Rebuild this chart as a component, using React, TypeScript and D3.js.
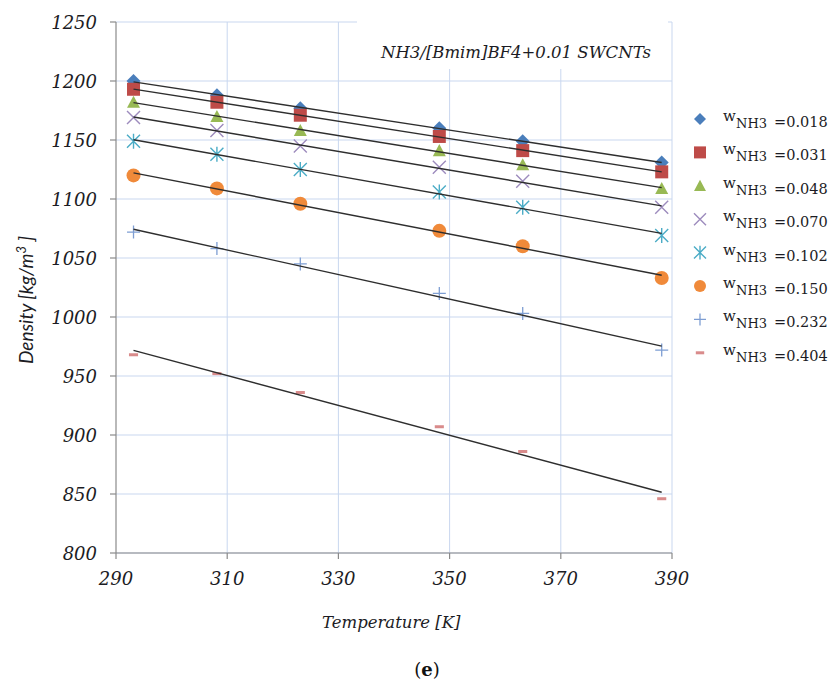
import React from "react";
import * as d3 from "d3";

// Measured temperatures (K)
const temperatures = [293.15, 308.15, 323.15, 348.15, 363.15, 388.15];

// Ammonia mass fractions, one series each
const fractions = ["0.018", "0.031", "0.048", "0.070", "0.102", "0.150", "0.232", "0.404"];

// Density (kg/m3) per series
const density018 = [1200, 1188, 1177, 1160, 1149, 1131];
const density031 = [1193, 1182, 1171, 1153, 1141, 1123];
const density048 = [1182, 1170, 1158, 1141, 1129, 1109];
const density070 = [1169, 1158, 1145, 1127, 1115, 1093];
const density102 = [1149, 1138, 1125, 1106, 1093, 1069];
const density150 = [1120, 1109, 1096, 1073, 1060, 1033];
const density232 = [1072, 1058, 1045, 1020, 1003, 972];
const density404 = [968, 952, 936, 907, 886, 846];

const seriesValues = [
  density018, density031, density048, density070,
  density102, density150, density232, density404,
];

const markerKinds = ["diamond", "square", "triangle", "cross", "asterisk", "circle", "plus", "dash"];
const markerColors = ["#4a7ebb", "#be4b48", "#98b954", "#9d8bbd", "#4bacc6", "#f08a3a", "#7e9ed3", "#d98b8b"];

const xTicks = [290, 310, 330, 350, 370, 390];
const yTicks = [800, 850, 900, 950, 1000, 1050, 1100, 1150, 1200, 1250];

const W = 830;
const H = 682;
const left = 116;
const right = 672;
const top = 22;
const bottom = 553;

const x = d3.scaleLinear().domain([290, 390]).range([left, right]);
const y = d3.scaleLinear().domain([800, 1250]).range([bottom, top]);

const gridColor = "#c9d7ef";
const axisColor = "#8a8a8a";
const textColor = "#1c1c24";
const serif = "'DejaVu Serif', serif";

// least-squares straight line through one series
function linearFit(xs: number[], ys: number[]) {
  const mx = d3.mean(xs) as number;
  const my = d3.mean(ys) as number;
  let sxy = 0;
  let sxx = 0;
  xs.forEach((v, i) => {
    sxy += (v - mx) * (ys[i] - my);
    sxx += (v - mx) * (v - mx);
  });
  const slope = sxy / sxx;
  return (t: number) => my + slope * (t - mx);
}

function Marker({ kind, cx, cy, color, s }: { kind: string; cx: number; cy: number; color: string; s: number }) {
  switch (kind) {
    case "diamond":
      return <path d={`M${cx},${cy - s}L${cx + s},${cy}L${cx},${cy + s}L${cx - s},${cy}Z`} fill={color} />;
    case "square":
      return <rect x={cx - s} y={cy - s} width={2 * s} height={2 * s} fill={color} />;
    case "triangle":
      return <path d={`M${cx},${cy - s}L${cx + s},${cy + s * 0.85}L${cx - s},${cy + s * 0.85}Z`} fill={color} />;
    case "cross":
      return (
        <path
          d={`M${cx - s},${cy - s}L${cx + s},${cy + s}M${cx - s},${cy + s}L${cx + s},${cy - s}`}
          stroke={color}
          strokeWidth={1.4}
          fill="none"
        />
      );
    case "asterisk":
      return (
        <path
          d={`M${cx - s},${cy - s}L${cx + s},${cy + s}M${cx - s},${cy + s}L${cx + s},${cy - s}M${cx},${cy - s * 1.15}L${cx},${cy + s * 1.15}`}
          stroke={color}
          strokeWidth={1.4}
          fill="none"
        />
      );
    case "circle":
      return <circle cx={cx} cy={cy} r={s} fill={color} />;
    case "plus":
      return (
        <path
          d={`M${cx - s},${cy}L${cx + s},${cy}M${cx},${cy - s}L${cx},${cy + s}`}
          stroke={color}
          strokeWidth={1.3}
          fill="none"
        />
      );
    case "dash":
      return <rect x={cx - s * 0.7} y={cy - 1.5} width={s * 1.4} height={3} fill={color} />;
    default:
      return null;
  }
}

export default function App() {
  const t0 = temperatures[0];
  const t1 = temperatures[temperatures.length - 1];
  const legendX = 700;
  const legendY0 = 119;
  const legendStep = 33.4;

  return (
    <svg
      width={W}
      height={H}
      viewBox={`0 0 ${W} ${H}`}
      style={{ position: "absolute", left: 0, top: 0, background: "#fff" }}
    >
      <rect width={W} height={H} fill="#fff" />

      {/* grid */}
      <g>
        {yTicks.map((v) => (
          <line key={`gy${v}`} x1={left} x2={right} y1={y(v)} y2={y(v)} stroke={gridColor} strokeWidth={1} />
        ))}
        {xTicks.slice(1).map((v) => (
          <line key={`gx${v}`} x1={x(v)} x2={x(v)} y1={top} y2={bottom} stroke={gridColor} strokeWidth={1} />
        ))}
      </g>

      {/* title box */}
      <rect x={357} y={16} width={311} height={53} fill="#fff" />
      <text x={381} y={58} fontFamily={serif} fontStyle="italic" fontSize={16.5} fill={textColor}>
        NH3/[Bmim]BF4+0.01 SWCNTs
      </text>

      {/* axes */}
      <line x1={left} x2={left} y1={top} y2={bottom} stroke={axisColor} strokeWidth={1.2} />
      <line x1={left} x2={right} y1={bottom} y2={bottom} stroke={axisColor} strokeWidth={1.2} />
      {yTicks.map((v) => (
        <g key={`ty${v}`}>
          <line x1={left - 6} x2={left} y1={y(v)} y2={y(v)} stroke={axisColor} strokeWidth={1.2} />
          <text
            x={97}
            y={y(v) + 7}
            textAnchor="end"
            fontFamily={serif}
            fontStyle="italic"
            fontSize={18}
            fill={textColor}
          >
            {v}
          </text>
        </g>
      ))}
      {xTicks.map((v) => (
        <g key={`tx${v}`}>
          <line x1={x(v)} x2={x(v)} y1={bottom} y2={bottom + 6} stroke={axisColor} strokeWidth={1.2} />
          <text
            x={x(v)}
            y={585}
            textAnchor="middle"
            fontFamily={serif}
            fontStyle="italic"
            fontSize={18}
            fill={textColor}
          >
            {v}
          </text>
        </g>
      ))}

      {/* axis titles */}
      <text x={322} y={628} fontFamily={serif} fontStyle="italic" fontSize={16.5} fill={textColor}>
        Temperature [K]
      </text>
      <text
        transform="translate(33,300) rotate(-90)"
        textAnchor="middle"
        fontFamily="Lato, sans-serif"
        fontStyle="italic"
        fontSize={19}
        fill={textColor}
      >
        Density [kg/m
        <tspan fontSize={13} dy={-7}>3</tspan>
        <tspan dy={7}> ]</tspan>
      </text>

      {/* data markers */}
      {seriesValues.map((vals, si) => (
        <g key={`s${si}`}>
          {vals.map((v, i) => (
            <Marker
              key={i}
              kind={markerKinds[si]}
              cx={x(temperatures[i])}
              cy={y(v)}
              color={markerColors[si]}
              s={markerKinds[si] === "diamond" ? 7 : markerKinds[si] === "circle" ? 7 : 6.5}
            />
          ))}
        </g>
      ))}

      {/* linear trend lines */}
      {seriesValues.map((vals, si) => {
        const f = linearFit(temperatures, vals);
        return (
          <line
            key={`fit${si}`}
            x1={x(t0)}
            y1={y(f(t0))}
            x2={x(t1)}
            y2={y(f(t1))}
            stroke="#2e2e2e"
            strokeWidth={1.4}
          />
        );
      })}

      {/* legend */}
      {fractions.map((fr, i) => {
        const cy = legendY0 + i * legendStep;
        return (
          <g key={`lg${i}`}>
            <Marker
              kind={markerKinds[i]}
              cx={legendX}
              cy={cy}
              color={markerColors[i]}
              s={markerKinds[i] === "diamond" ? 6 : 6}
            />
            <text fontFamily={serif} fill={textColor}>
              <tspan x={723} y={cy + 2} fontSize={15}>w</tspan>
              <tspan x={736} y={cy + 9} fontSize={13}>NH3</tspan>
              <tspan x={774} y={cy + 8} fontSize={14.5}>={fr}</tspan>
            </text>
          </g>
        );
      })}

      {/* panel label */}
      <text x={427} y={676} textAnchor="middle" fontFamily={serif} fontSize={18} fill="#111">
        (<tspan fontWeight="bold">e</tspan>)
      </text>
    </svg>
  );
}
